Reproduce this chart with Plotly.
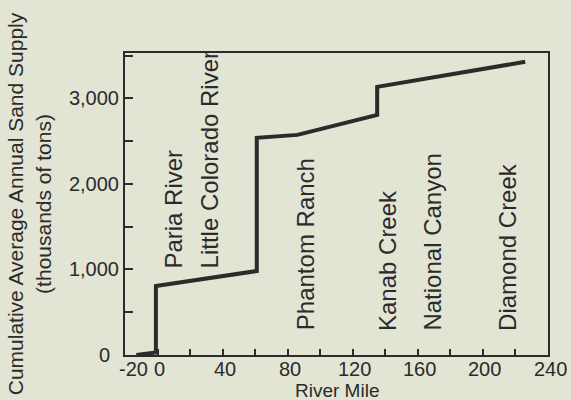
import plotly.graph_objects as go

# Data
river_mile = [-13, -1, -1, 61, 61, 86, 135, 135, 226]
sand_supply = [0, 30, 807, 982, 2538, 2573, 2807, 3134, 3427]

site_names = ["Paria River", "Little Colorado River", "Phantom Ranch",
              "Kanab Creek", "National Canyon", "Diamond Creek"]
site_miles = [10, 32, 91, 141, 169, 215]
site_label_base = [990, 990, 262, 262, 262, 262]

x_tick_vals = list(range(-20, 241, 20))
x_label_vals = [-20, 0, 40, 80, 120, 160, 200, 240]
x_label_text = ["-20", "0", "40", "80", "120", "160", "200", "240"]
y_tick_vals = [0, 500, 1000, 1500, 2000, 2500, 3000, 3500]
y_tick_text = ["", "", "1,000", "", "2,000", "", "3,000", ""]

BG = "#e2e4d4"
INK = "#2b2b2b"
FONT = "Liberation Sans, Arial, sans-serif"

fig = go.Figure()
fig.add_trace(go.Scatter(x=river_mile, y=sand_supply, mode="lines",
                         line=dict(color=INK, width=4), showlegend=False,
                         hoverinfo="skip", cliponaxis=False))

for name, xm, yb in zip(site_names, site_miles, site_label_base):
    fig.add_annotation(x=xm, y=yb, text=name, textangle=-90, showarrow=False,
                       xanchor="center", yanchor="bottom",
                       font=dict(family=FONT, size=24, color=INK))

# x tick labels set tight under the axis, as in the original
for xv, xt in zip(x_label_vals, x_label_text):
    fig.add_annotation(x=xv, y=-0.045, xref="x", yref="paper", text=xt,
                       xshift=8 if xv == -20 else 2, showarrow=False,
                       xanchor="center", yanchor="middle",
                       font=dict(family=FONT, size=20, color=INK))

# y "0" label nudged left as in the original
fig.add_annotation(x=-0.031, y=0, xref="paper", yref="y", text="0",
                   showarrow=False, xanchor="right", yanchor="middle",
                   font=dict(family=FONT, size=20, color=INK))

# x-axis title
fig.add_annotation(x=0.5, y=-0.117, xref="paper", yref="paper", text="River Mile",
                   showarrow=False, xanchor="center", yanchor="middle",
                   font=dict(family=FONT, size=19, color=INK))

fig.update_layout(
    width=571, height=400,
    margin=dict(l=125, r=23, t=53, b=45, autoexpand=False),
    paper_bgcolor=BG, plot_bgcolor=BG,
    font=dict(family=FONT, color=INK, size=20),
)
fig.update_xaxes(range=[-20, 240], tickvals=x_tick_vals, showticklabels=False,
                 ticks="inside", ticklen=6, tickwidth=2, tickcolor=INK,
                 showline=True, linewidth=2, linecolor=INK, mirror=True,
                 showgrid=False, zeroline=False, automargin=False)
fig.update_yaxes(range=[0, 3530], tickvals=y_tick_vals, ticktext=y_tick_text,
                 ticks="inside", ticklen=8, tickwidth=2, tickcolor=INK,
                 showline=True, linewidth=2, linecolor=INK, mirror=True,
                 showgrid=False, zeroline=False, automargin=False,
                 title=dict(text="Cumulative Average Annual Sand Supply<br>(thousands of tons)",
                            standoff=12, font=dict(size=21, family=FONT)),
                 tickfont=dict(size=20))

fig.write_html("out.html")
